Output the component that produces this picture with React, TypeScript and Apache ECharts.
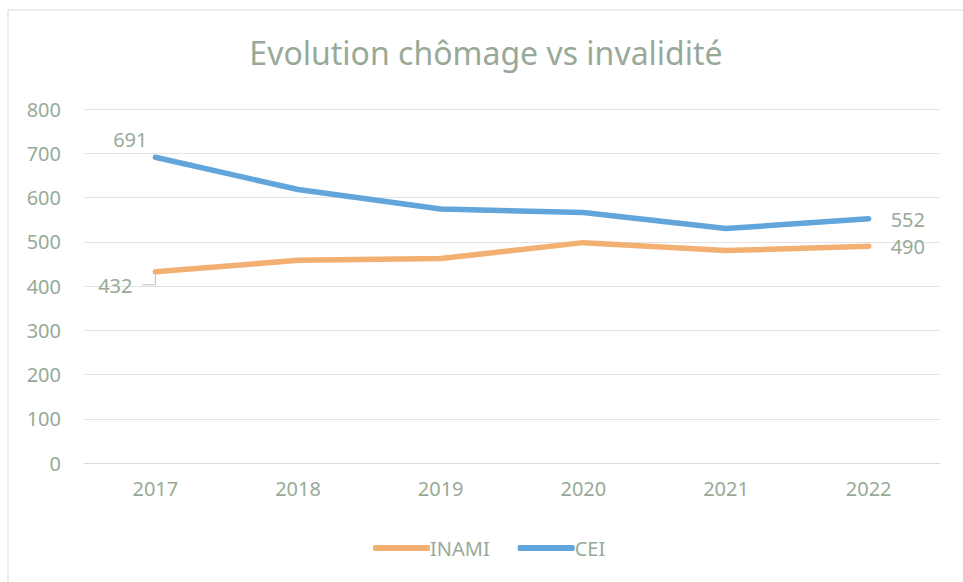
import React, { useEffect, useRef } from "react";
import * as echarts from "echarts";

const categories = ["2017", "2018", "2019", "2020", "2021", "2022"];
const inamiValues = [432, 458, 462, 498, 480, 490];
const ceiValues = [691, 618, 574, 566, 530, 552];
const yTicks = { min: 0, max: 800, interval: 100 };
const titleText = "Evolution chômage vs invalidité";

const TEXT = "#98aa97";
const FONT = "'Noto Sans', sans-serif";

export default function App() {
  const ref = useRef<HTMLDivElement>(null);
  useEffect(() => {
    if (!ref.current) return;
    const chart = echarts.init(ref.current, undefined, { renderer: "svg" });
    const lastIdx = categories.length - 1;
    const inamiData = inamiValues.map((v, i) => {
      if (i === 0)
        return { value: v, label: { show: true, position: "bottom", distance: 4 } };
      if (i === lastIdx)
        return { value: v, label: { show: true, position: "right", distance: 22, offset: [0, 1] } };
      return v;
    });
    const ceiData = ceiValues.map((v, i) => {
      if (i === 0)
        return { value: v, label: { show: true, position: "top", distance: 4, offset: [-25, -4] } };
      if (i === lastIdx)
        return { value: v, label: { show: true, position: "right", distance: 22, offset: [0, 1] } };
      return v;
    });
    const labelStyle = { color: TEXT, fontFamily: FONT, fontSize: 20 };
    const option: any = {
      animation: false,
      backgroundColor: "#ffffff",
      graphic: [
        {
          id: "frame",
          type: "rect",
          shape: { x: 8, y: 10, width: 1000, height: 700 },
          style: { fill: "none", stroke: "#d9d9d9", lineWidth: 1 },
          silent: true,
        },
      ],
      title: {
        text: titleText,
        left: 481,
        textAlign: "center",
        top: 31,
        textStyle: { color: TEXT, fontFamily: FONT, fontSize: 32, fontWeight: "normal" },
      },
      legend: {
        left: 368,
        top: 533,
        itemWidth: 57,
        itemHeight: 6,
        itemGap: 28,
        icon: "roundRect",
        textStyle: { color: TEXT, fontFamily: FONT, fontSize: 20, padding: [0, 0, 0, -5] },
        data: ["INAMI", "CEI"],
      },
      grid: { left: 84, right: 23, top: 109, bottom: 119, containLabel: false },
      xAxis: {
        type: "category",
        data: categories,
        boundaryGap: true,
        axisLine: { show: true, lineStyle: { color: "#d9d9d9", width: 1 } },
        axisTick: { show: false },
        axisLabel: { color: TEXT, fontFamily: FONT, fontSize: 20, margin: 15 },
      },
      yAxis: {
        type: "value",
        min: yTicks.min,
        max: yTicks.max,
        interval: yTicks.interval,
        axisLine: { show: false },
        axisTick: { show: false },
        splitLine: { lineStyle: { color: "#e3e3e3", width: 1 } },
        axisLabel: { color: TEXT, fontFamily: FONT, fontSize: 20, margin: 23 },
      },
      series: [
        {
          name: "INAMI",
          type: "line",
          data: inamiData,
          showSymbol: true,
          symbol: "circle",
          symbolSize: 0,
          color: "#f2b173",
          lineStyle: { width: 5.5, color: "#f2b173", cap: "round", join: "round" },
          label: { show: false, ...labelStyle },
          labelLayout: (p: any) => (p.dataIndex === 0 ? { dx: -40, dy: 0 } : {}),
          z: 2,
        },
        {
          name: "CEI",
          type: "line",
          data: ceiData,
          showSymbol: true,
          symbol: "circle",
          symbolSize: 0,
          color: "#62a5db",
          lineStyle: { width: 5.5, color: "#62a5db", cap: "round", join: "round" },
          label: { show: false, ...labelStyle },
          z: 3,
        },
      ],
    };
    chart.setOption(option);
    const p = chart.convertToPixel({ seriesIndex: 0 }, [0, inamiValues[0]]) as number[];
    if (p) {
      chart.setOption({
        graphic: [
          {
            id: "leader",
            type: "polyline",
            shape: {
              points: [
                [p[0], p[1] + 2],
                [p[0], p[1] + 13],
                [p[0] - 13, p[1] + 13],
              ],
            },
            style: { fill: "none", stroke: "#bfbfbf", lineWidth: 1 },
            z: 1,
            silent: true,
          },
        ],
      });
    }
    return () => chart.dispose();
  }, []);
  return (
    <div
      ref={ref}
      style={{ position: "fixed", left: 0, top: 0, width: 963, height: 582 }}
    />
  );
}
